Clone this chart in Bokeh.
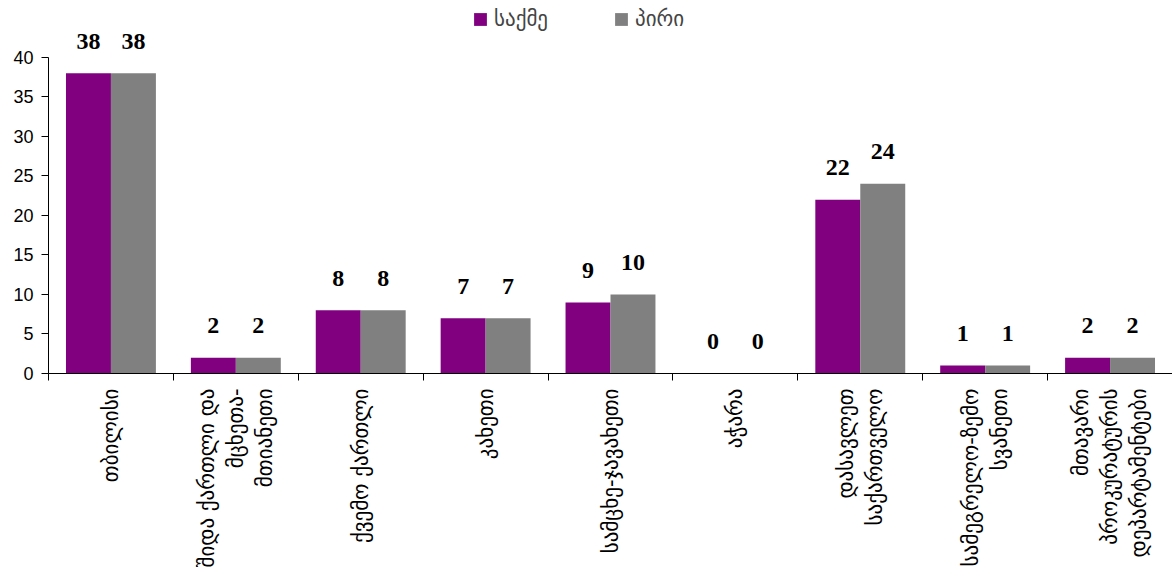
import math
from bokeh.plotting import figure
from bokeh.models import Range1d, FixedTicker, Legend, LegendItem, ColumnDataSource
from bokeh.core.properties import value
from bokeh.embed import file_html
from bokeh.resources import INLINE

categories = [
    "თბილისი",
    "შიდა ქართლი და\nმცხეთა-\nმთიანეთი",
    "ქვემო ქართლი",
    "კახეთი",
    "სამცხე-ჯავახეთი",
    "აჭარა",
    "დასავლეთ\nსაქართველო",
    "სამეგრელო-ზემო\nსვანეთი",
    "მთავარი\nპროკურატურის\nდეპარტამენტები",
]
series_names = ["საქმე", "პირი"]
cases = [38, 2, 8, 7, 9, 0, 22, 1, 2]
persons = [38, 2, 8, 7, 10, 0, 24, 1, 2]
y_ticks = [0, 5, 10, 15, 20, 25, 30, 35, 40]

colors = ["#800080", "#808080"]
bw = 0.36
idx = list(range(len(categories)))

p = figure(width=1172, height=570, output_backend="svg", toolbar_location=None,
           x_range=Range1d(-0.5, len(categories) - 0.5), y_range=Range1d(0, 47.2),
           min_border_left=48, min_border_right=0, min_border_top=0, min_border_bottom=0)
p.outline_line_color = None
p.xgrid.visible = False
p.ygrid.visible = False

s1 = ColumnDataSource(dict(x=[i - bw / 2 for i in idx], y=cases, t=[str(v) for v in cases]))
s2 = ColumnDataSource(dict(x=[i + bw / 2 for i in idx], y=persons, t=[str(v) for v in persons]))
r1 = p.vbar(x="x", top="y", width=bw, source=s1, fill_color=colors[0], line_color=None)
r2 = p.vbar(x="x", top="y", width=bw, source=s2, fill_color=colors[1], line_color=None)

for s in (s1, s2):
    p.text(x="x", y="y", text="t", source=s, text_align="center", text_baseline="middle",
           y_offset=-32, text_font=value("Liberation Serif"), text_font_style="bold",
           text_font_size="24px", text_color="black")

# y axis
ya = p.yaxis[0]
ya.ticker = FixedTicker(ticks=y_ticks)
ya.bounds = (0, 40)
ya.major_tick_out = 7
ya.major_tick_in = 0
ya.minor_tick_out = 0
ya.minor_tick_in = 0
ya.axis_line_color = "black"
ya.major_tick_line_color = "black"
ya.major_label_text_font = "Liberation Sans"
ya.major_label_text_font_size = "18px"
ya.major_label_text_color = "black"
ya.major_label_standoff = 8

# x axis
xa = p.xaxis[0]
xa.ticker = FixedTicker(ticks=idx, minor_ticks=[i - 0.5 for i in range(len(categories) + 1)])
xa.major_label_overrides = {i: c for i, c in enumerate(categories)}
xa.major_tick_out = 0
xa.major_tick_in = 0
xa.minor_tick_out = 7
xa.minor_tick_in = 0
xa.minor_tick_line_color = "black"
xa.axis_line_color = "black"
xa.major_label_orientation = math.pi / 2
xa.major_label_text_font = "DejaVu Sans"
xa.major_label_text_font_size = "21px"
xa.major_label_text_color = "black"
xa.major_label_standoff = 8

legend = Legend(items=[LegendItem(label=series_names[0], renderers=[r1]),
                       LegendItem(label=series_names[1], renderers=[r2])],
                orientation="horizontal", location=(424, 342), border_line_color=None,
                background_fill_alpha=0, glyph_width=16, glyph_height=16, label_standoff=6,
                spacing=65, padding=2, margin=0,
                label_text_font="DejaVu Sans", label_text_font_size="21px")
p.add_layout(legend)

open("out.html", "w").write(file_html(p, INLINE))
